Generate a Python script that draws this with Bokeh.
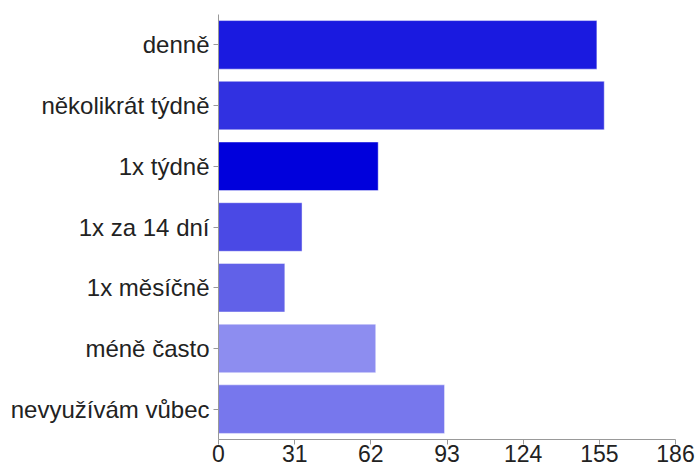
from bokeh.plotting import figure
from bokeh.models import FactorRange, Range1d, FixedTicker, ColumnDataSource
from bokeh.embed import file_html
from bokeh.resources import INLINE

categories = ["denně", "několikrát týdně", "1x týdně", "1x za 14 dní",
              "1x měsíčně", "méně často", "nevyužívám vůbec"]
values = [154, 157, 65, 34, 27, 64, 92]
colors = ["#1a1ae0", "#3131e1", "#0000dc", "#4a49e5", "#6161e8", "#8d8df0", "#7777ed"]
tick_values = [0, 31, 62, 93, 124, 155, 186]

src = ColumnDataSource(dict(cat=categories, val=values, color=colors))

p = figure(width=697, height=470, output_backend="svg", toolbar_location=None,
           y_range=FactorRange(*list(reversed(categories)), range_padding=0),
           x_range=Range1d(0, 186),
           min_border_left=218, min_border_right=22, min_border_top=14,
           min_border_bottom=31)

p.hbar(y="cat", right="val", left=0, height=0.8, fill_color="color",
       line_color="white", line_alpha=0.45, line_width=1, source=src)

p.xgrid.visible = False
p.ygrid.visible = False
p.outline_line_color = None

p.xaxis.ticker = FixedTicker(ticks=tick_values)
for ax in (p.xaxis[0], p.yaxis[0]):
    ax.axis_line_color = "#999999"
    ax.major_tick_line_color = "#999999"
    ax.major_tick_out = 5
    ax.major_tick_in = 0
    ax.minor_tick_line_color = None
    ax.major_label_text_font = "Liberation Sans"
    ax.major_label_text_color = "#222222"

p.xaxis.major_label_text_font_size = "23px"
p.xaxis.major_label_standoff = 0
p.yaxis.major_label_text_font_size = "24px"
p.yaxis.major_label_standoff = 4

open("out.html", "w").write(file_html(p, INLINE))
